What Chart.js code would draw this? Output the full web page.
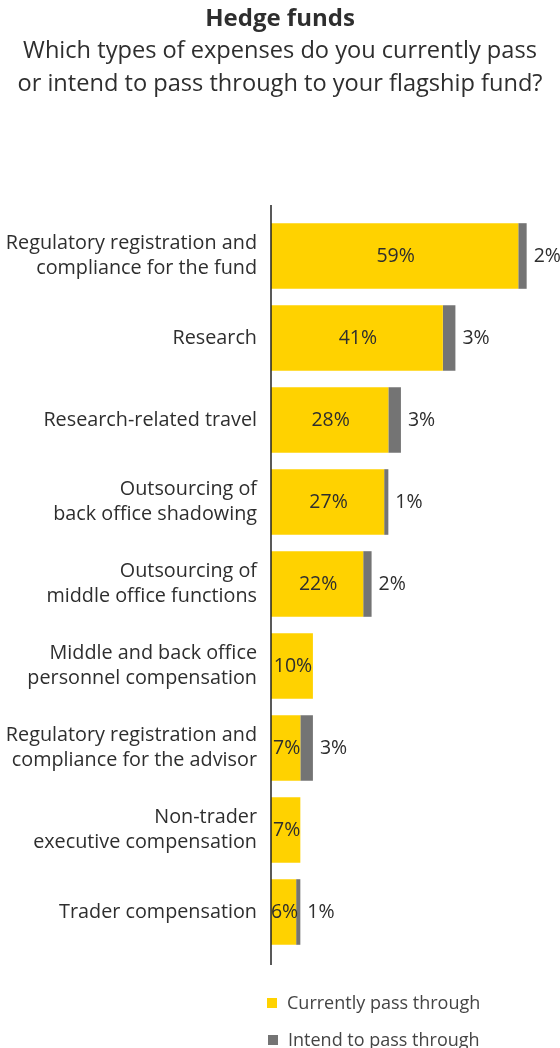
<!DOCTYPE html>
<html>
<head>
<meta charset="utf-8">
<script src="https://cdn.jsdelivr.net/npm/chart.js@4"></script>
<style>
  html, body { margin: 0; padding: 0; background: #fff; }
  #wrap { position: relative; width: 560px; height: 1048px; font-family: "Open Sans", sans-serif; color: #2e2e2e; }
  #chart { position: absolute; left: 0; top: 0; }
  .title { position: absolute; left: 0; width: 560px; text-align: center; }
  #t1 { top: 0px; font-size: 24px; font-weight: 700; }
  #t2 { top: 33px; font-size: 23.6px; line-height: 33px; }
  .legend { position: absolute; left: 267px; font-size: 18px; color: #444; }
  .legend span { display: inline-block; width: 10px; height: 10px; margin-right: 10px; vertical-align: 1px; }
</style>
</head>
<body>
<div id="wrap">
  <canvas id="chart" width="560" height="1048"></canvas>
  <div class="title" id="t1">Hedge funds</div>
  <div class="title" id="t2">Which types of expenses do you currently pass<br>or intend to pass through to your flagship fund?</div>
  <div id="legend"></div>
</div>
<script>
const categories = [
  ["Regulatory registration and", "compliance for the fund"],
  "Research",
  "Research-related travel",
  ["Outsourcing of", "back office shadowing"],
  ["Outsourcing of", "middle office functions"],
  ["Middle and back office", "personnel compensation"],
  ["Regulatory registration and", "compliance for the advisor"],
  ["Non-trader", "executive compensation"],
  "Trader compensation"
];
const currentlyPass = [59, 41, 28, 27, 22, 10, 7, 7, 6];
const intendToPass = [2, 3, 3, 1, 2, 0, 3, 0, 1];

const YELLOW = "#ffd200";
const GREY = "#747474";
const TEXT = "#2e2e2e";

// vertical axis line, a little taller than the plot area
const axisLine = {
  id: "axisLine",
  afterDraw(chart) {
    const { ctx, chartArea } = chart;
    ctx.save();
    ctx.strokeStyle = "#222";
    ctx.lineWidth = 1.5;
    ctx.beginPath();
    ctx.moveTo(chartArea.left, chartArea.top - 10);
    ctx.lineTo(chartArea.left, chartArea.bottom + 12);
    ctx.stroke();
    ctx.restore();
  }
};

// percentage labels: inside the yellow bars, after the grey ones
const valueLabels = {
  id: "valueLabels",
  afterDatasetsDraw(chart) {
    const ctx = chart.ctx;
    ctx.save();
    ctx.font = "19.5px 'Open Sans'";
    ctx.fillStyle = TEXT;
    ctx.textBaseline = "middle";
    chart.data.datasets.forEach((ds, i) => {
      chart.getDatasetMeta(i).data.forEach((bar, j) => {
        const v = ds.data[j];
        if (!v) return;
        if (i === 0) {
          ctx.textAlign = "center";
          ctx.fillText(v + "%", (bar.x + bar.base) / 2 + 1, bar.y);
        } else {
          ctx.textAlign = "left";
          ctx.fillText(v + "%", bar.x + 7, bar.y);
        }
      });
    });
    ctx.restore();
  }
};

const chart = new Chart(document.getElementById("chart"), {
  type: "bar",
  data: {
    labels: categories,
    datasets: [
      { label: "Currently pass through", data: currentlyPass, backgroundColor: YELLOW },
      { label: "Intend to pass through", data: intendToPass, backgroundColor: GREY }
    ]
  },
  options: {
    indexAxis: "y",
    responsive: false,
    animation: false,
    devicePixelRatio: 1,
    barPercentage: 0.8,
    categoryPercentage: 1,
    layout: { padding: { top: 215, bottom: 95, left: 0, right: 4 } },
    plugins: { legend: { display: false }, tooltip: { enabled: false } },
    scales: {
      x: { display: false, stacked: true, min: 0, max: 68 },
      y: {
        stacked: true,
        grid: { display: false, drawTicks: false },
        border: { display: false },
        afterFit(scale) { scale.width = 271; },
        ticks: {
          padding: 14,
          color: TEXT,
          font: { family: "'Open Sans'", size: 19.8, lineHeight: 1.26 }
        }
      }
    }
  },
  plugins: [axisLine, valueLabels]
});

// legend under the chart, one entry per row
const legend = document.getElementById("legend");
chart.data.datasets.forEach((ds, i) => {
  const row = document.createElement("div");
  row.className = "legend";
  row.style.top = (990 + i * 37) + "px";
  row.style.left = (267 + i) + "px";
  row.innerHTML = '<span style="background:' + ds.backgroundColor + '"></span>' + ds.label;
  legend.appendChild(row);
});
</script>
</body>
</html>
